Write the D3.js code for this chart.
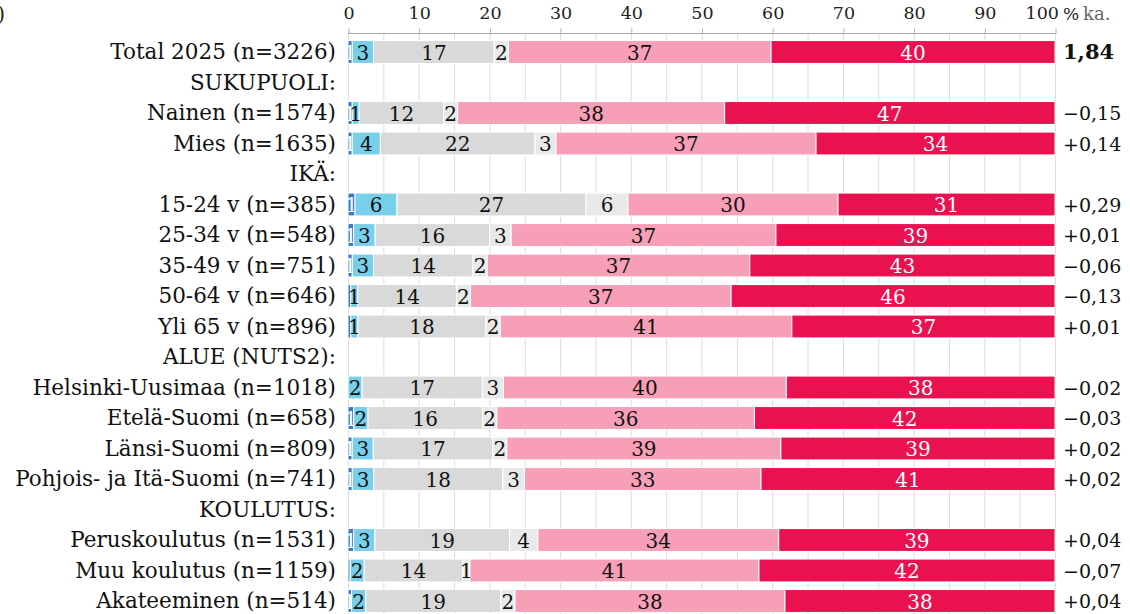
<!DOCTYPE html>
<html>
<head>
<meta charset="utf-8">
<script src="https://cdn.jsdelivr.net/npm/d3@7"></script>
<style>
  html, body { margin: 0; padding: 0; background: #fff; }
  svg { display: block; font-family: "DejaVu Serif", Georgia, serif; }
</style>
</head>
<body>
<svg id="chart" width="1130" height="614"></svg>
<script>
const rowLabels = ["Total 2025 (n=3226)", "SUKUPUOLI:", "Nainen (n=1574)", "Mies (n=1635)", "IKÄ:",
  "15-24 v (n=385)", "25-34 v (n=548)", "35-49 v (n=751)", "50-64 v (n=646)", "Yli 65 v (n=896)",
  "ALUE (NUTS2):", "Helsinki-Uusimaa (n=1018)", "Etelä-Suomi (n=658)", "Länsi-Suomi (n=809)",
  "Pohjois- ja Itä-Suomi (n=741)", "KOULUTUS:", "Peruskoulutus (n=1531)", "Muu koulutus (n=1159)",
  "Akateeminen (n=514)"];
const isHeader = [false, true, false, false, true, false, false, false, false, false, true, false, false, false, false, true, false, false, false];

// data rows (headers excluded), in order
const s1 = [0.6, 0.6, 0.6, 1.0, 0.8, 0.6, 0.4, 0.4, 0.0, 0.8, 0.6, 0.6, 0.8, 0.3, 0.5];
const s2 = [3, 1, 4, 6, 3, 3, 1, 1, 2, 2, 3, 3, 3, 2, 2];
const s3 = [17, 12, 22, 27, 16, 14, 14, 18, 17, 16, 17, 18, 19, 14, 19];
const s4 = [2, 2, 3, 6, 3, 2, 2, 2, 3, 2, 2, 3, 4, 1, 2];
const s5 = [37, 38, 37, 30, 37, 37, 37, 41, 40, 36, 39, 33, 34, 41, 38];
const s6 = [40, 47, 34, 31, 39, 43, 46, 37, 38, 42, 39, 41, 39, 42, 38];
const averages = ["1,84", "\u22120,15", "+0,14", "+0,29", "+0,01", "\u22120,06", "\u22120,13", "+0,01",
  "\u22120,02", "\u22120,03", "+0,02", "+0,02", "+0,04", "\u22120,07", "+0,04"];
const tickValues = [0, 10, 20, 30, 40, 50, 60, 70, 80, 90, 100];

const colors = ["#3a7bbf", "#77cfea", "#d9d9d9", "#e9e9e9", "#f69fb6", "#e9114f"];
const textColors = ["#fff", "#111", "#111", "#111", "#111", "#fff"];
const series = [s1, s2, s3, s4, s5, s6];

const svg = d3.select("#chart");
const defs = svg.append("defs");
const x = d3.scaleLinear().domain([0, 100]).range([348, 1055]);
const y = d3.scaleBand().domain(d3.range(rowLabels.length)).range([36.75, 616.25])
  .paddingInner(0.25).paddingOuter(0.125);

// gridlines every 5
const grid = svg.append("g");
grid.selectAll("line").data(d3.range(0, 101, 5)).join("line")
  .attr("x1", d => x(d) + 0.5).attr("x2", d => x(d) + 0.5)
  .attr("y1", 33).attr("y2", 614)
  .attr("stroke", "#dcdcdc").attr("stroke-width", 1);

// top axis
const axis = d3.axisTop(x).tickValues(tickValues).tickSize(5).tickPadding(10).tickFormat(d3.format("d"));
const ag = svg.append("g").attr("transform", "translate(0.5,33.5)").call(axis);
ag.select(".domain").attr("stroke", "#aaa").attr("d", `M${x(0)},0H${x(100)}`);
ag.selectAll(".tick line").attr("stroke", "#aaa");
ag.selectAll(".tick text").attr("font-family", "DejaVu Serif").attr("font-size", 17.5).attr("fill", "#222");
ag.selectAll(".tick text").filter(d => d === 100).attr("text-anchor", "end").attr("dx", 3);

svg.append("text").attr("x", 1063).attr("y", 20).attr("font-size", 17).attr("fill", "#222").text("%");
svg.append("text").attr("x", 1083).attr("y", 20).attr("font-size", 18).attr("fill", "#666").text("ka.");
svg.append("text").attr("x", 5).attr("y", 21).attr("text-anchor", "end").attr("font-size", 20).attr("fill", "#222").text(")");

// row labels
svg.append("g").selectAll("text").data(rowLabels).join("text")
  .attr("x", 336).attr("y", (d, i) => y(i) + y.bandwidth() / 2 + 7)
  .attr("text-anchor", "end").attr("font-size", 21.5).attr("fill", "#111")
  .text(d => d);

// build stacked data
const dataRows = [];
let k = 0;
rowLabels.forEach((lab, i) => {
  if (isHeader[i]) return;
  const vals = series.map(s => s[k]);
  const total = d3.sum(vals);
  let cum = 0;
  const segs = vals.map((v, j) => {
    const seg = { j, v, row: k, x0: cum / total * 100, x1: (cum + v) / total * 100 };
    cum += v;
    return seg;
  });
  dataRows.push({ row: i, segs, avg: averages[k], first: k === 0 });
  k++;
});

// clip paths for the darkest segment labels (they are clipped in the reference)
dataRows.forEach(d => {
  const s = d.segs[0];
  defs.append("clipPath").attr("id", `clip-${s.row}`)
    .append("rect").attr("x", x(s.x0)).attr("width", Math.max(0, x(s.x1) - x(s.x0)))
    .attr("y", 0).attr("height", y.bandwidth());
});

const rowG = svg.append("g").selectAll("g").data(dataRows).join("g")
  .attr("transform", d => `translate(0,${y(d.row)})`);

rowG.selectAll("rect").data(d => d.segs.filter(s => s.v > 0)).join("rect")
  .attr("x", s => x(s.x0)).attr("width", s => x(s.x1) - x(s.x0))
  .attr("y", 0).attr("height", y.bandwidth())
  .attr("fill", s => colors[s.j]).attr("stroke", "#fff").attr("stroke-width", 1);

rowG.selectAll("text.val").data(d => d.segs.filter(s => Math.round(s.v) >= 1)).join("text")
  .attr("class", "val")
  .attr("x", s => (x(s.x0) + x(s.x1)) / 2)
  .attr("y", y.bandwidth() / 2 + 7.5)
  .attr("text-anchor", "middle").attr("font-size", 20)
  .attr("clip-path", s => s.j === 0 ? `url(#clip-${s.row})` : null)
  .attr("fill", s => textColors[s.j])
  .text(s => Math.round(s.v));

rowG.append("text")
  .attr("x", 1063).attr("y", y.bandwidth() / 2 + 7)
  .attr("font-size", d => d.first ? 21 : 19)
  .attr("font-weight", d => d.first ? "bold" : "normal")
  .attr("fill", "#111")
  .text(d => d.avg);
</script>
</body>
</html>
